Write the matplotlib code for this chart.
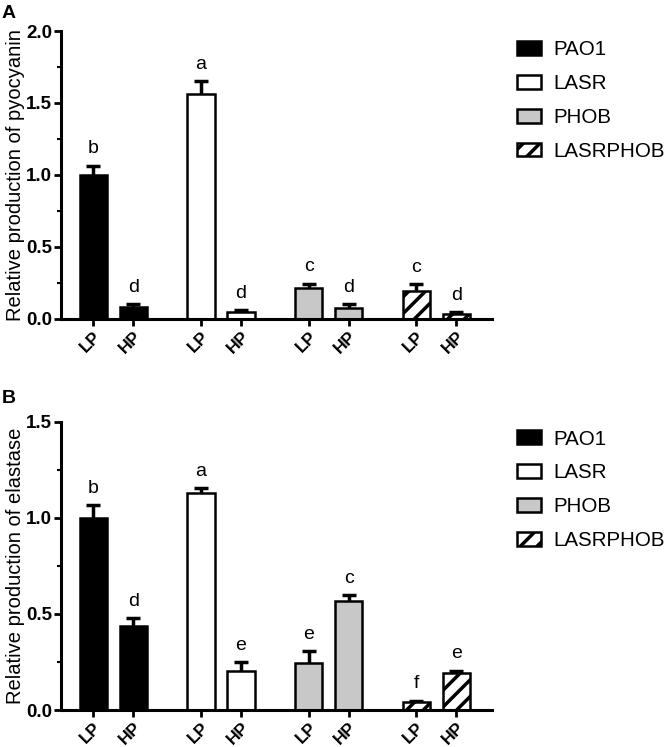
import numpy as np
import matplotlib.pyplot as plt
from matplotlib.patches import Patch
from matplotlib.ticker import MultipleLocator

plt.rcParams['font.family'] = ['Liberation Sans', 'DejaVu Sans']
plt.rcParams['hatch.linewidth'] = 2.5

strains = ['PAO1', 'LASR', 'PHOB', 'LASRPHOB']
conditions = ['LP', 'HP']

# panel A - pyocyanin (LP, HP per strain)
pyo_mean = [1.00, 0.085, 1.565, 0.05, 0.217, 0.078, 0.197, 0.033]
pyo_err = [0.065, 0.02, 0.085, 0.012, 0.028, 0.026, 0.043, 0.013]
pyo_letters = ['b', 'd', 'a', 'd', 'c', 'd', 'c', 'd']

# panel B - elastase
ela_mean = [1.00, 0.437, 1.13, 0.203, 0.245, 0.567, 0.04, 0.191]
ela_err = [0.066, 0.04, 0.024, 0.045, 0.062, 0.031, 0.008, 0.013]
ela_letters = ['b', 'd', 'a', 'e', 'e', 'c', 'f', 'e']

fills = ['black', 'white', '#c8c8c8', 'white']
hatches = [None, None, None, '//']

group_step = 2.69
xs = np.array([g * group_step + i for g in range(len(strains)) for i in range(len(conditions))])
bar_fc = [fills[g] for g in range(len(strains)) for i in range(len(conditions))]
bar_h = [hatches[g] for g in range(len(strains)) for i in range(len(conditions))]


def draw_panel(ax, mean, err, letters, ylabel, ymax):
    for x, m, e, fc, h in zip(xs, mean, err, bar_fc, bar_h):
        ax.bar(x, m, width=0.68, color=fc, edgecolor='black', linewidth=1.8,
               hatch=h, zorder=2)
        ax.errorbar(x, m, yerr=e, fmt='none', ecolor='black', elinewidth=2.5,
                    capsize=5, capthick=2.5, zorder=1)
    for x, m, e, t in zip(xs, mean, err, letters):
        ax.annotate(t, (x, m + e), xytext=(0, 6), textcoords='offset points',
                    ha='center', va='bottom', fontsize=14)
    ax.set_xlim(-0.81, 9.96)
    ax.set_ylim(0, ymax)
    ax.yaxis.set_major_locator(MultipleLocator(0.5))
    ax.yaxis.set_minor_locator(MultipleLocator(0.25))
    ax.set_xticks(xs)
    ax.set_xticklabels(conditions * len(strains), rotation=45, ha='right',
                       rotation_mode='anchor', fontweight='bold', fontsize=12.5)
    ax.set_yticks(ax.get_yticks())
    ax.set_yticklabels(['%.1f' % v for v in ax.get_yticks()],
                       fontweight='bold', fontsize=13.5)
    ax.set_ylim(0, ymax)
    ax.spines['top'].set_visible(False)
    ax.spines['right'].set_visible(False)
    ax.spines['left'].set_linewidth(2.2)
    ax.spines['bottom'].set_linewidth(2.2)
    ax.tick_params(which='major', length=5, width=2)
    ax.tick_params(axis='x', pad=2)
    ax.tick_params(axis='y', pad=1.5)
    ax.tick_params(which='minor', length=3, width=1.5)
    ax.set_ylabel(ylabel, fontsize=14.5, labelpad=1)


fig = plt.figure(figsize=(6.66, 7.47), dpi=100)
axA = fig.add_axes([0.0916, 0.573, 0.647, 0.3855])
axB = fig.add_axes([0.0916, 0.0495, 0.647, 0.386])

draw_panel(axA, pyo_mean, pyo_err, pyo_letters, 'Relative production of pyocyanin', 2.0)
draw_panel(axB, ela_mean, ela_err, ela_letters, 'Relative production of elastase', 1.5)

handles = [Patch(facecolor=fc, edgecolor='black', hatch=h, linewidth=1.8)
           for fc, h in zip(fills, hatches)]
for top in [0.946, 0.425]:
    fig.legend(handles, strains, loc='upper left', bbox_to_anchor=(0.776, top),
               frameon=False, fontsize=14.8, handlelength=1.2, handleheight=0.65,
               handletextpad=0.6, labelspacing=0.72, borderpad=0, borderaxespad=0)

fig.text(0.003, 0.993, 'A', fontsize=14, fontweight='bold', va='top')
fig.text(0.003, 0.478, 'B', fontsize=14, fontweight='bold', va='top')

fig.savefig('out.png', dpi=100)
